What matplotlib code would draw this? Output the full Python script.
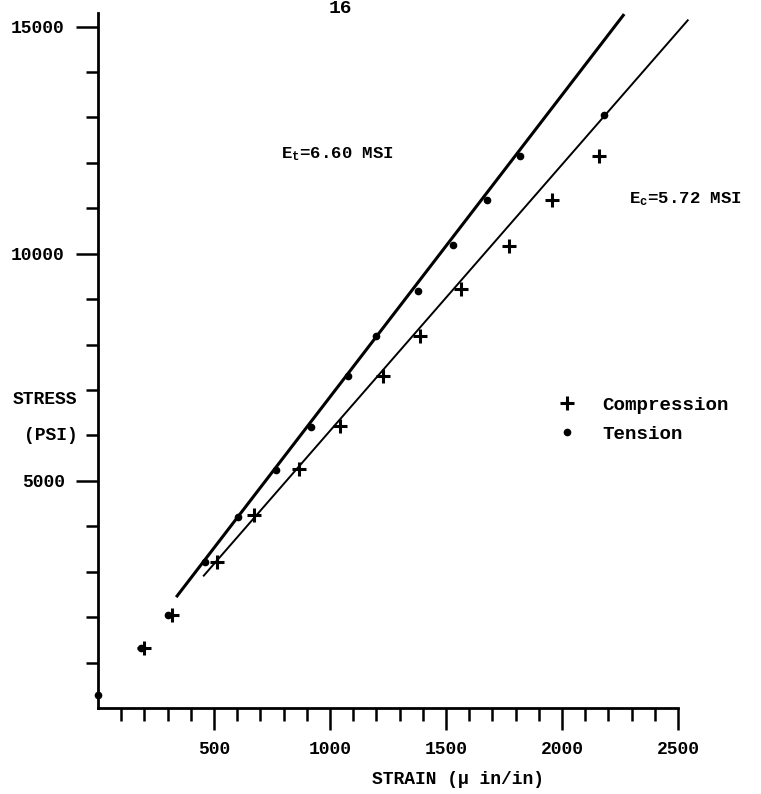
import numpy as np
import matplotlib as mpl
mpl.use('Agg')
import matplotlib.pyplot as plt

# data (strain in micro in/in, stress in psi)
tens_strain = [0, 185, 300, 463, 604, 769, 919, 1077, 1199, 1379, 1531, 1675, 1821, 2183]
tens_stress = [280, 1330, 2040, 3223, 4214, 5242, 6196, 7313, 8194, 9170, 10183, 11174, 12159, 13062]
comp_strain = [200, 320, 514, 672, 866, 1041, 1229, 1387, 1566, 1771, 1958, 2159]
comp_stress = [1330, 2040, 3210, 4251, 5257, 6211, 7313, 8194, 9222, 10161, 11174, 12159]

# fitted lines (end points)
fit_t_strain = [341, 2264]
fit_t_stress = [2467, 15249]
fit_c_strain = [456, 2542]
fit_c_stress = [2914, 15139]

plt.rc('font', family='Liberation Mono', weight='bold')
plt.rc('mathtext', fontset='custom', rm='Liberation Mono:bold',
       it='Liberation Mono:bold')
ftsize = 13

fig = plt.figure(figsize=(7.61, 7.94), dpi=100)
ax = fig.add_axes([98/761, 86/794, 580/761, 695/794])

ax.plot(fit_t_strain, fit_t_stress, '-k', linewidth=2.2, clip_on=False)
ax.plot(fit_c_strain, fit_c_stress, '-k', linewidth=1.4, clip_on=False)
ax.plot(tens_strain, tens_stress, 'ok', markersize=4.5, linestyle='none',
        label='Tension', clip_on=False)
ax.plot(comp_strain, comp_stress, '+k', markersize=10, markeredgewidth=2.2,
        linestyle='none', label='Compression', clip_on=False)

ax.set_xlim(0, 2500)
ax.set_ylim(0, 15300)
for s in ['top', 'right']:
    ax.spines[s].set_visible(False)
for s in ['left', 'bottom']:
    ax.spines[s].set_linewidth(2.0)

ax.set_xticks([500, 1000, 1500, 2000, 2500])
ax.set_xticks([v for v in range(100, 2500, 100) if v % 500], minor=True)
ax.set_yticks([5000, 10000, 15000])
ax.set_yticks([v for v in range(1000, 15000, 1000) if v % 5000], minor=True)
ax.tick_params(which='major', length=16, width=1.8, labelsize=ftsize, pad=8)
ax.tick_params(which='minor', length=9, width=1.8)

ax.text(790, 12200, r'E$_\mathrm{t}$=6.60 MSI', fontsize=12.5, va='center')
ax.text(2290, 11200, r'E$_\mathrm{c}$=5.72 MSI', fontsize=12.5, va='center',
        clip_on=False)

handles, labels = ax.get_legend_handles_labels()
ax.legend(handles[::-1], labels[::-1], loc='upper left',
          bbox_to_anchor=(0.775, 0.462), frameon=False, fontsize=13.8,
          handlelength=1.0, handletextpad=1.35, labelspacing=0.6,
          numpoints=1, borderpad=0)

fig.text(45/761, 1-400/794, 'STRESS', fontsize=ftsize, ha='center', va='center')
fig.text(51/761, 1-435/794, '(PSI)', fontsize=ftsize, ha='center', va='center')
fig.text(458/761, 1-780/794, 'STRAIN (\u03bc in/in)', fontsize=ftsize,
         ha='center', va='center')
fig.text(340/761, 1.0, '16', fontsize=14, ha='center', va='top')

plt.savefig('out.png', dpi=100)
